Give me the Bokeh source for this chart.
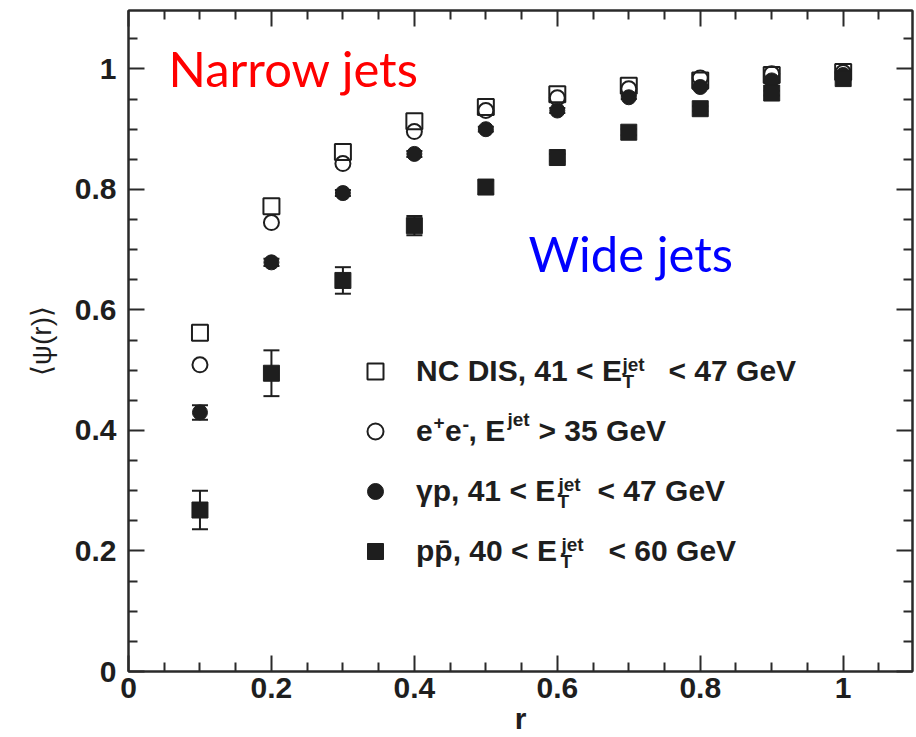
from bokeh.plotting import figure
from bokeh.models import (Range1d, FixedTicker, LinearAxis, Whisker, TeeHead,
                          ColumnDataSource, Label, Legend, LegendItem)
from bokeh.embed import file_html
from bokeh.resources import INLINE

# ---------------- data ----------------
r_values = [0.1, 0.2, 0.3, 0.4, 0.5, 0.6, 0.7, 0.8, 0.9, 1.0]
psi_nc_dis = [0.562, 0.772, 0.862, 0.913, 0.937, 0.958, 0.972, 0.981, 0.990, 0.995]
psi_ee = [0.509, 0.745, 0.843, 0.896, 0.931, 0.952, 0.967, 0.985, 0.992, 0.994]
psi_gp = [0.430, 0.679, 0.794, 0.859, 0.900, 0.931, 0.953, 0.970, 0.981, 0.990]
psi_gp_err = [0.012, 0.006, 0.005, 0.005, 0.004, 0.004, 0.003, 0.003, 0.002, 0.002]
psi_ppbar = [0.268, 0.495, 0.649, 0.740, 0.804, 0.853, 0.895, 0.934, 0.960, 0.984]
psi_ppbar_err = [0.032, 0.038, 0.022, 0.016, 0.011, 0.006, 0.005, 0.004, 0.004, 0.003]

series_labels = ["NC DIS, 41 < E", "e", "γp, 41 < E", "pp\u0304, 40 < E"]

x_tick_values = [0, 0.2, 0.4, 0.6, 0.8, 1.0]
x_tick_labels = ["0", "0.2", "0.4", "0.6", "0.8", "1"]
y_tick_values = [0, 0.2, 0.4, 0.6, 0.8, 1.0]
y_tick_labels = ["0", "0.2", "0.4", "0.6", "0.8", "1"]
minor_tick_values = [0.05, 0.1, 0.15, 0.25, 0.3, 0.35, 0.45, 0.5, 0.55, 0.65,
                     0.7, 0.75, 0.85, 0.9, 0.95, 1.05]

# ---------------- figure ----------------
INK = "#1e1e1e"
AXIS = "#2a2a2a"
FL, FB = 128, 671   # frame left / bottom in page pixels

p = figure(width=916, height=737, output_backend="svg", toolbar_location=None,
           x_range=Range1d(0, 1.097), y_range=Range1d(0, 1.097),
           min_border_left=128, min_border_right=4, min_border_top=10,
           min_border_bottom=66, x_axis_label="r", y_axis_label="⟨ψ(r)⟩")
p.grid.visible = False
p.outline_line_color = AXIS
p.outline_line_width = 2
p.background_fill_color = "white"
p.border_fill_color = "white"


def style_axis(ax, ticks, labels):
    ax.ticker = FixedTicker(ticks=ticks, minor_ticks=minor_tick_values)
    ax.major_tick_in = 16
    ax.major_tick_out = 0
    ax.minor_tick_in = 9
    ax.minor_tick_out = 0
    ax.major_tick_line_width = 2
    ax.minor_tick_line_width = 2
    ax.major_tick_line_color = AXIS
    ax.minor_tick_line_color = AXIS
    ax.axis_line_width = 2
    ax.axis_line_color = AXIS
    ax.major_label_overrides = {t: s for t, s in zip(ticks, labels)}
    ax.major_label_text_font = "Liberation Sans"
    ax.major_label_text_font_style = "bold"
    ax.major_label_text_font_size = "30px"
    ax.major_label_text_color = INK


style_axis(p.below[0], x_tick_values, x_tick_labels)
style_axis(p.left[0], y_tick_values, y_tick_labels)

xa = p.below[0]
xa.major_label_standoff = 6
xa.axis_label_standoff = 1
xa.axis_label_text_font = "Liberation Sans"
xa.axis_label_text_font_style = "bold"
xa.axis_label_text_font_size = "30px"
xa.axis_label_text_color = INK

ya = p.left[0]
ya.major_label_standoff = 12
ya.axis_label_standoff = 15
ya.axis_label_text_font = "Liberation Sans"
ya.axis_label_text_font_style = "normal"
ya.axis_label_text_font_size = "28px"
ya.axis_label_text_color = INK


# tick-only axes on the top and right edges (no labels)
def add_frame_axis(place, ticks, length, draw_line):
    ax = LinearAxis(ticker=FixedTicker(ticks=[], minor_ticks=ticks),
                    major_tick_in=0, major_tick_out=0,
                    minor_tick_in=length, minor_tick_out=0,
                    minor_tick_line_width=2, minor_tick_line_color=AXIS,
                    axis_line_color=AXIS if draw_line else None, axis_line_width=2,
                    major_label_standoff=0, axis_label_standoff=0)
    p.add_layout(ax, place)


add_frame_axis("above", minor_tick_values, 9, True)
add_frame_axis("above", x_tick_values, 16, False)
add_frame_axis("right", minor_tick_values, 9, True)
add_frame_axis("right", y_tick_values, 16, False)

# ---------------- data glyphs ----------------
src = ColumnDataSource(dict(
    r=r_values, nc=psi_nc_dis, ee=psi_ee, gp=psi_gp, pp=psi_ppbar,
    gp_lo=[v - e for v, e in zip(psi_gp, psi_gp_err)],
    gp_hi=[v + e for v, e in zip(psi_gp, psi_gp_err)],
    pp_lo=[v - e for v, e in zip(psi_ppbar, psi_ppbar_err)],
    pp_hi=[v + e for v, e in zip(psi_ppbar, psi_ppbar_err)],
))

for lo, hi in (("gp_lo", "gp_hi"), ("pp_lo", "pp_hi")):
    p.add_layout(Whisker(source=src, base="r", lower=lo, upper=hi, dimension="height",
                         line_color=INK, line_width=2,
                         upper_head=TeeHead(size=16, line_color=INK, line_width=2),
                         lower_head=TeeHead(size=16, line_color=INK, line_width=2)))

r_nc = p.scatter("r", "nc", source=src, marker="square", size=16,
                 fill_color=None, line_color=INK, line_width=2)
r_ee = p.scatter("r", "ee", source=src, marker="circle", size=15,
                 fill_color=None, line_color=INK, line_width=2)
r_gp = p.scatter("r", "gp", source=src, marker="circle", size=15,
                 fill_color=INK, line_color=INK, line_width=1)
r_pp = p.scatter("r", "pp", source=src, marker="square", size=16,
                 fill_color=INK, line_color=INK, line_width=1)

legend = Legend(items=[LegendItem(label=lab, renderers=[r])
                       for lab, r in zip(series_labels, (r_nc, r_ee, r_gp, r_pp))],
                location=(227, 100), glyph_width=40, glyph_height=40, label_height=40,
                spacing=20, padding=0, margin=0, label_standoff=21,
                label_text_font="Liberation Sans", label_text_font_style="bold",
                label_text_font_size="30px", label_text_color=INK,
                label_text_baseline="middle",
                border_line_color=None, background_fill_alpha=0)
p.add_layout(legend)


# ---------------- texts ----------------
def txt(text, X, Y, size, bold=True, color=INK, font="Liberation Sans", align="left"):
    # (X, Y): page position of the text's left edge / baseline
    p.add_layout(Label(x=X - FL, y=FB - Y + 0.36 * size, x_units="screen", y_units="screen",
                       text=text, text_font=font, text_font_size=f"{size}px",
                       text_font_style="bold" if bold else "normal",
                       text_color=color, text_baseline="alphabetic", text_align=align))


rows = [381, 441, 501, 561]
# legend row 1
b = rows[0]
txt("jet", 622, b - 10, 19)
txt("T", 622, b + 7, 19)
txt("< 47 GeV", 668, b, 30)
# legend row 2
b = rows[1]
txt("+", 433, b - 12, 19)
txt("e", 444.5, b, 30)
txt("-", 462, b - 10, 20)
txt(", E", 468, b, 30)
txt("jet", 507, b - 15, 19)
txt("> 35 GeV", 538, b, 30)
# legend row 3
b = rows[2]
txt("jet", 558, b - 10, 19)
txt("T", 557, b + 7, 19)
txt("< 47 GeV", 597, b, 30)
# legend row 4
b = rows[3]
txt("jet", 561, b - 10, 19)
txt("T", 560, b + 7, 19)
txt("< 60 GeV", 608, b, 30)

# annotations
txt("Narrow jets", 168, 85, 49, bold=False, color="#ff0000", font="Lato")
txt("Wide jets", 528, 270, 49, bold=False, color="#0000ff", font="Lato")

open("out.html", "w").write(file_html(p, INLINE))
